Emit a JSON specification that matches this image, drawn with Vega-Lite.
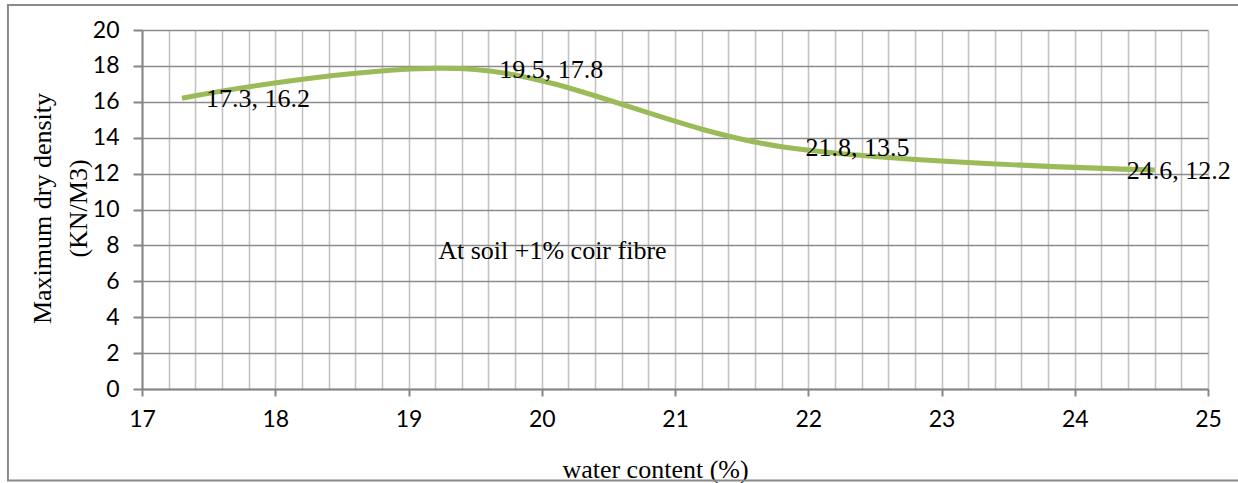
{
  "$schema": "https://vega.github.io/schema/vega-lite/v6.json",
  "width": 1066,
  "height": 359,
  "autosize": "none",
  "padding": {"left": 142, "top": 30, "right": 30, "bottom": 94},
  "background": "white",
  "config": {"view": {"stroke": null}},
  "data": {"values": [
    {"water": 17.3, "density": 16.2, "label": "17.3, 16.2", "side": "right"},
    {"water": 19.5, "density": 17.8, "label": "19.5, 17.8", "side": "right"},
    {"water": 21.8, "density": 13.5, "label": "21.8, 13.5", "side": "right"},
    {"water": 24.6, "density": 12.2, "label": "24.6, 12.2", "side": "left"}
  ]},
  "encoding": {
    "x": {"field": "water", "type": "quantitative",
      "scale": {"domain": [17, 25], "nice": false, "zero": false},
      "axis": {
        "title": "water content (%)",
        "titleFont": "Liberation Serif", "titleFontSize": 26, "titleFontWeight": "normal", "titleColor": "black",
        "titleX": 513, "titleY": 88, "titleBaseline": "alphabetic", "titleAnchor": null, "titleAlign": "center",
        "values": [17,17.2,17.4,17.6,17.8,18,18.2,18.4,18.6,18.8,19,19.2,19.4,19.6,19.8,20,20.2,20.4,20.6,20.8,21,21.2,21.4,21.6,21.8,22,22.2,22.4,22.6,22.8,23,23.2,23.4,23.6,23.8,24,24.2,24.4,24.6,24.8,25],
        "labelExpr": "abs(datum.value - round(datum.value)) < 0.01 ? format(round(datum.value), 'd') : ''",
        "labelOverlap": false, "labelBound": false, "labelFlush": false,
        "labelFont": "Lato", "labelFontSize": 23, "labelColor": "black", "labelPadding": 12,
        "grid": true, "gridColor": "#c3c3c3", "gridWidth": 1.6,
        "domainColor": "#868686", "domainWidth": 2,
        "tickColor": "#868686", "tickWidth": 2, "tickSize": 7,
        "tickOpacity": {"condition": {"test": "abs(datum.value - round(datum.value)) < 0.01", "value": 1}, "value": 0}
      }},
    "y": {"field": "density", "type": "quantitative",
      "scale": {"domain": [0, 20], "nice": false},
      "axis": {
        "title": ["Maximum dry density", "(KN/M3)"],
        "titleFont": "Liberation Serif", "titleFontSize": 26, "titleFontWeight": "normal", "titleColor": "black",
        "titleAngle": -90, "titleX": -92, "titleY": 178, "titleBaseline": "alphabetic", "titleAlign": "center", "titleAnchor": null,
        "titleLineHeight": 36,
        "values": [0,2,4,6,8,10,12,14,16,18,20],
        "labelFont": "Lato", "labelFontSize": 23, "labelColor": "black", "labelPadding": 14,
        "grid": true, "gridColor": "#8c8c8c", "gridWidth": 1.6,
        "domainColor": "#868686", "domainWidth": 2,
        "tickColor": "#868686", "tickWidth": 2, "tickSize": 9
      }}
  },
  "layer": [
    {
      "transform": [{"filter": "datum.side == 'left'"}],
      "mark": {"type": "rect", "fill": null, "stroke": "#8a8a8a", "strokeWidth": 2, "clip": false},
      "encoding": {
        "x": {"datum": 15.994},
        "x2": {"datum": 25.26},
        "y": {"datum": 21.39},
        "y2": {"datum": -5.1}
      }
    },
    {
      "mark": {"type": "line", "color": "#9BBB59", "strokeWidth": 5, "interpolate": "cardinal", "strokeCap": "butt"}
    },
    {
      "transform": [{"filter": "datum.side == 'right'"}],
      "mark": {"type": "text", "font": "Liberation Serif", "fontSize": 26, "align": "left", "baseline": "alphabetic", "dx": 24, "dy": 9, "color": "black"},
      "encoding": {"text": {"field": "label"}}
    },
    {
      "transform": [{"filter": "datum.side == 'left'"}],
      "mark": {"type": "text", "font": "Liberation Serif", "fontSize": 26, "align": "left", "baseline": "alphabetic", "dx": -28, "dy": 9, "color": "black"},
      "encoding": {"text": {"field": "label"}}
    },
    {
      "transform": [{"filter": "datum.side == 'left'"}],
      "mark": {"type": "text", "font": "Liberation Serif", "fontSize": 26, "align": "center", "baseline": "alphabetic", "color": "black"},
      "encoding": {
        "x": {"datum": 20.08},
        "y": {"datum": 7.24},
        "text": {"value": "At soil +1% coir fibre"}
      }
    }
  ]
}
